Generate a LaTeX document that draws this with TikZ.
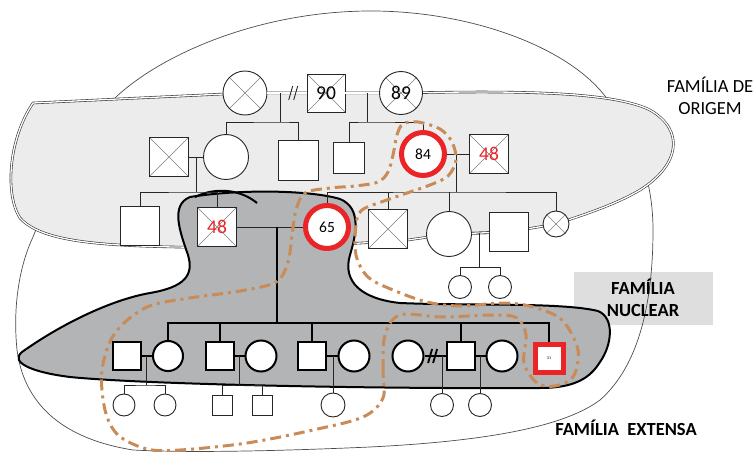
\documentclass[tikz,border=0pt]{standalone}
\usepackage{fontspec}
\setmainfont{Carlito}
\usepackage{tikz}
\usetikzlibrary{calc}
\definecolor{ringred}{RGB}{235,36,40}
\definecolor{dotbrown}{RGB}{201,139,88}
\definecolor{origfill}{RGB}{236,236,236}
\definecolor{nucfill}{RGB}{178,180,182}
\definecolor{tagfill}{RGB}{222,222,222}
\tikzset{
  sq/.style={rectangle, draw=black!85, fill=white, line width=0.9, minimum size=#1, inner sep=0pt},
  ci/.style={circle, draw=black!85, fill=white, line width=0.9, minimum size=#1, inner sep=0pt},
  nsq/.style={sq=#1, draw=black, line width=2},
  nci/.style={ci=#1, draw=black, line width=2},
  ring/.style={circle, draw=ringred, line width=5, fill=white, minimum size=#1, inner sep=0pt, font=\fontsize{15.5}{15.5}\selectfont},
  rsq/.style={rectangle, draw=ringred, line width=5, fill=white, minimum size=#1, inner sep=0pt, font=\fontsize{4}{4}\selectfont},
  dead/.style={path picture={\draw[black!50, line width=0.6] (path picture bounding box.north west) -- (path picture bounding box.south east) (path picture bounding box.south west) -- (path picture bounding box.north east);}},
  num/.style={font=\fontsize{19.5}{19.5}\selectfont},
  rnum/.style={num, text=ringred},
  kin/.style={draw=black!85, line width=0.9},
  nkin/.style={draw=black, line width=2},
  dbl/.style={draw=black!80, double, line width=0.6, double distance=1.3},
  route/.style={draw=dotbrown, line width=3, dash pattern=on 11pt off 5pt on 3pt off 5pt},
  famtag/.style={align=center, font=\fontsize{18.5}{22}\selectfont},
  bfamtag/.style={align=center, font=\fontsize{18.5}{22}\selectfont\bfseries}
}
\begin{document}
\begin{tikzpicture}[x=1pt, y=-1pt]
\useasboundingbox (0,0) rectangle (756,452);
\fill[tagfill] (574,272) rectangle (713,325);
\draw[black!70, line width=0.7] (115,98) .. controls (160,55) and (260,10) .. (375,11) .. controls (470,12) and (560,45) .. (600,90) .. controls (630,125) and (653,170) .. (653,230) .. controls (653,300) and (640,365) .. (600,400) .. controls (560,430) and (470,442) .. (370,447) .. controls (280,451) and (190,453) .. (133,450) .. controls (70,440) and (25,410) .. (17,350) .. controls (12,300) and (22,260) .. (33,237) .. controls (60,170) and (85,125) .. (115,98) -- cycle;
\draw[dbl, fill=origfill] (33,103) -- (245,93) -- (326,93) -- (401,93) .. controls (500,91) and (610,90) .. (650,110) .. controls (685,130) and (680,165) .. (640,190) .. controls (615,205) and (580,216) .. (556,224) -- (509,232) -- (449,234) -- (408,240) .. controls (330,246) and (200,250) .. (120,245) .. controls (70,242) and (35,235) .. (20,218) .. controls (5,195) and (8,140) .. (33,103) -- cycle;
\draw[line width=2, fill=nucfill] (190,197) .. controls (240,189) and (310,190) .. (340,199) .. controls (362,208) and (356,235) .. (350,255) .. controls (342,282) and (362,299) .. (400,303) .. controls (470,306) and (560,302) .. (598,311) .. controls (615,318) and (612,345) .. (600,362) .. controls (590,378) and (575,388) .. (540,388) .. controls (400,389) and (150,385) .. (70,377) .. controls (30,372) and (10,362) .. (22,352) .. controls (60,325) and (110,300) .. (150,293) .. controls (185,287) and (194,275) .. (188,255) .. controls (180,232) and (170,205) .. (190,197) -- cycle;
\draw[line width=2] (195,197) .. controls (215,187) and (240,189) .. (257,203);
\node[ci=44, dead] (gA) at (245,93) {};
\node[sq=38, dead, num] (gB) at (326,93) {90};
\node[ci=43, dead, num] (gC) at (401,93) {89};
\node[sq=39, dead] (b1) at (169,157) {};
\node[ci=45] (b2) at (226,157) {};
\node[sq=40] (b3) at (298,160) {};
\node[sq=31] (b4) at (349,158) {};
\node[ring=43] (b5) at (423,154) {84};
\node[sq=39, dead, rnum] (b6) at (489,154) {48};
\node[sq=39] (c1) at (140,226) {};
\node[sq=39, dead, rnum] (c2) at (217,227) {48};
\node[ring=43] (c3) at (327,227) {65};
\node[sq=39, dead] (c4) at (388,229) {};
\node[ci=45] (c5) at (449,234) {};
\node[sq=39] (c6) at (509,232) {};
\node[ci=26, dead] (c7) at (556,224) {};
\node[ci=23] (d1) at (460,287) {};
\node[ci=23] (d2) at (500,287) {};
\node[nsq=28] (n1) at (127,356) {};
\node[nci=30] (n2) at (168,356) {};
\node[nsq=28] (n3) at (220,356) {};
\node[nci=31] (n4) at (261,356) {};
\node[nsq=28] (n5) at (312,356) {};
\node[nci=31] (n6) at (354,356) {};
\node[nci=31] (n7) at (408,356) {};
\node[nsq=28] (n8) at (461,356) {};
\node[nci=31] (n9) at (502,356) {};
\node[rsq=28] (n10) at (549,358) {31};
\node[ci=22] (k1) at (124,405) {};
\node[ci=22] (k2) at (165,405) {};
\node[sq=20] (k3) at (222,405) {};
\node[sq=20] (k4) at (262,405) {};
\node[ci=24] (k5) at (333,405) {};
\node[ci=23] (k6) at (442,405) {};
\node[ci=23] (k7) at (480,405) {};
\draw[dbl] (gA) -- (gB);
\draw[dbl] (gB) -- (gC);
\draw[kin] ($(gA.east)!0.62!(gB.west)$) +(-3,7) -- +(1,-7) +(2,7) -- +(6,-7);
\draw[kin] ($(gA.east)!0.33!(gB.west)$) -- ++(0,29) coordinate (s1);
\draw[kin] (b2.north) |- (s1) -| (b3.north);
\draw[kin] ($(gB.east)!0.65!(gC.west)$) -- ++(0,29) coordinate (s2);
\draw[kin] (b4.north) |- (s2) -| (b5.north);
\draw[kin] (b1) -- (b2);
\draw[kin] ($(b1.east)!0.5!(b2.west)$) -- ++(0,35) coordinate (s3);
\draw[kin] (c1.north) |- (s3) -| (c2.north);
\draw[kin] (b5) -- (b6);
\draw[kin] ($(b5.east)!0.45!(b6.west)$) -- ++(0,38) coordinate (s4);
\draw[kin] (c3.north) |- (s4) -| (c7.north);
\foreach \k in {c4,c5} \draw[kin] (\k.north) -- (\k.north |- s4);
\draw[dbl] (c5) -- (c6);
\draw[kin] ($(c5.east)!0.45!(c6.west)$) -- ++(0,34) coordinate (s6);
\draw[kin] (d1.north) |- (s6) -| (d2.north);
\draw[kin] (c2) -- (c3);
\draw[nkin] ($(c2.east)!0.6!(c3.west)$) -- ++(0,96) coordinate (s5);
\draw[nkin] (n2.north) |- (s5) -| (n10.north);
\foreach \k in {n3,n5,n8} \draw[nkin] (\k.north) -- (\k.north |- s5);
\draw[nkin] (n1) -- (n2);
\draw[nkin] (n3) -- (n4);
\draw[nkin] (n5) -- (n6);
\draw[nkin] (n7) -- (n8);
\draw[nkin] (n8) -- (n9);
\draw[nkin, line width=1.8] ($(n7.east)!0.4!(n8.west)$) +(-5,7) -- +(-1,-7) +(0,7) -- +(4,-7);
\draw[kin] ($(n1.east)!0.4!(n2.west)$) -- ++(0,29) coordinate (s7);
\draw[kin] (k1.north) |- (s7) -| (k2.north);
\draw[kin] ($(n3.east)!0.5!(n4.west)$) -- ++(0,29) coordinate (s8);
\draw[kin] (k3.north) |- (s8) -| (k4.north);
\draw[kin] (k5.north) -- (k5.north |- n5.east);
\draw[kin] (k6.north) -- (k6.north |- n8.west);
\draw[kin] (k7.north) -- (k7.north |- n8.east);
\node[famtag] (lorig) at (710,96) {FAMÍLIA DE\\ORIGEM};
\node[bfamtag] (lnuc) at (643,298) {FAMÍLIA\\NUCLEAR};
\node[bfamtag] (lext) at (626,428) {FAMÍLIA\ \ EXTENSA};
\draw[route] plot[smooth cycle, tension=0.55] coordinates {(383,398) (383,370) (385,335) (400,315) (443,317) (493,315) (517,318) (526,335) (524,363) (537,383) (555,386) (573,377) (578,350) (562,320) (533,307) (503,303) (460,306) (427,302) (393,290) (368,277) (356,255) (356,225) (362,210) (387,200) (410,192) (430,185) (448,176) (456,160) (452,142) (440,129) (418,122) (403,124) (397,135) (393,155) (388,172) (378,182) (355,186) (330,188) (305,193) (296,210) (292,235) (288,262) (276,282) (240,291) (190,298) (147,307) (115,333) (102,370) (105,410) (118,435) (147,449) (180,450) (247,443) (313,430) (363,417)};
\end{tikzpicture}
\end{document}
